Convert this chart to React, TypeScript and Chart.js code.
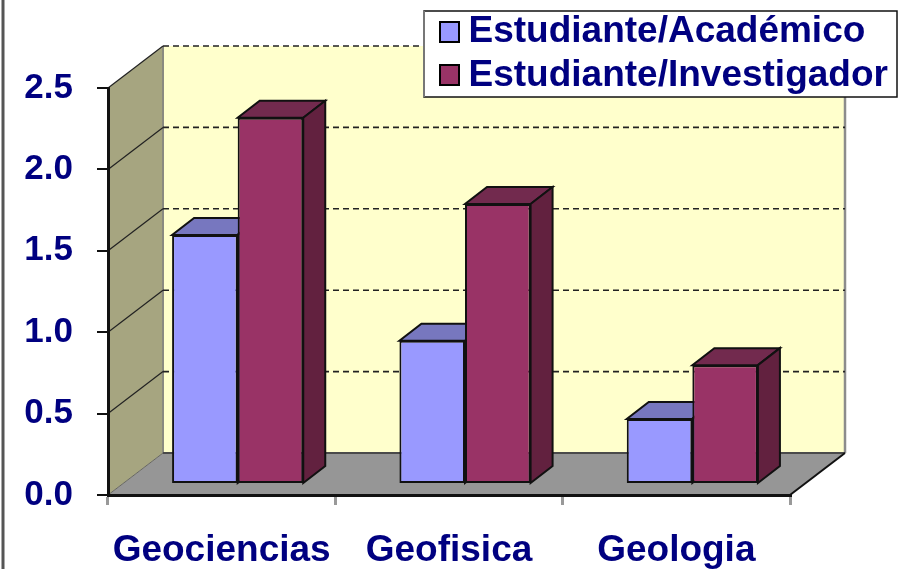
import React, { useEffect, useRef } from "react";
import { Chart, registerables } from "chart.js";

Chart.register(...registerables);

const categories = ["Geociencias", "Geofisica", "Geologia"];
const academico = [1.53, 0.88, 0.4];
const investigador = [2.25, 1.72, 0.73];
const seriesNames = ["Estudiante/Académico", "Estudiante/Investigador"];
const yTicks = [0, 0.5, 1, 1.5, 2, 2.5];

const NAVY = "#000080";
const FONT = "'Liberation Sans', Arial, sans-serif";
const WALL_DX = 55;
const WALL_DY = -42;
const BAR_DX = 16;
const BAR_DY = -11;
const DEPTH_X = 22;
const DEPTH_Y = -17;

function poly(ctx: CanvasRenderingContext2D, pts: number[][], fill: string, stroke?: string, lw = 1) {
  ctx.beginPath();
  pts.forEach((p, i) => (i ? ctx.lineTo(p[0], p[1]) : ctx.moveTo(p[0], p[1])));
  ctx.closePath();
  ctx.fillStyle = fill;
  ctx.fill();
  if (stroke) {
    ctx.strokeStyle = stroke;
    ctx.lineWidth = lw;
    ctx.stroke();
  }
}

function line(ctx: CanvasRenderingContext2D, x0: number, y0: number, x1: number, y1: number, color: string, lw: number, dash: number[] = []) {
  ctx.save();
  ctx.beginPath();
  ctx.setLineDash(dash);
  ctx.moveTo(x0, y0);
  ctx.lineTo(x1, y1);
  ctx.strokeStyle = color;
  ctx.lineWidth = lw;
  ctx.stroke();
  ctx.restore();
}

const stage = {
  id: "stage3d",
  afterLayout(chart: any) {
    const lg = chart.legend;
    if (lg) {
      lg.left = 433;
      lg.right = 905;
      lg.width = 472;
      lg.top = 6;
      lg.bottom = 160;
      lg.height = 154;
    }
  },
  beforeDraw(chart: any) {
    const ctx: CanvasRenderingContext2D = chart.ctx;
    const { left, right } = chart.chartArea;
    const y = chart.scales.y;
    const y0 = y.getPixelForValue(0);
    const yTop = y.getPixelForValue(2.5);
    ctx.save();
    // page frame
    line(ctx, 3, 0, 3, 569, "#555555", 3);
    // walls and floor
    poly(ctx, [[left + WALL_DX, y0 + WALL_DY], [right + WALL_DX, y0 + WALL_DY], [right + WALL_DX, yTop + WALL_DY], [left + WALL_DX, yTop + WALL_DY]], "#FFFFCC");
    poly(ctx, [[left, y0], [left + WALL_DX, y0 + WALL_DY], [left + WALL_DX, yTop + WALL_DY], [left, yTop]], "#A6A580");
    poly(ctx, [[left, y0], [left + WALL_DX, y0 + WALL_DY], [right + WALL_DX, y0 + WALL_DY], [right, y0]], "#969696");
    line(ctx, left + WALL_DX, yTop + WALL_DY, left + WALL_DX, y0 + WALL_DY, "#8a8a80", 2);
    line(ctx, right + WALL_DX, yTop + WALL_DY, right + WALL_DX, y0 + WALL_DY, "#8c8c8c", 2.5);
    line(ctx, left + WALL_DX, y0 + WALL_DY, right + WALL_DX, y0 + WALL_DY, "#4a4a4a", 2);
    line(ctx, right, y0, right + WALL_DX, y0 + WALL_DY, "#111111", 2);
    line(ctx, left, y0, left + WALL_DX, y0 + WALL_DY, "#666660", 1);
    // gridlines
    yTicks.slice(1).forEach((v) => {
      const p = y.getPixelForValue(v);
      line(ctx, left, p, left + WALL_DX, p + WALL_DY, "#222222", 1.2);
      line(ctx, left + WALL_DX, p + WALL_DY, right + WALL_DX, p + WALL_DY, "#222222", 1.6, [6, 4]);
    });
    // legend panel
    ctx.fillStyle = "#ffffff";
    ctx.fillRect(424, 11, 473, 86);
    ctx.strokeStyle = "#111111";
    ctx.lineWidth = 1.5;
    ctx.strokeRect(424, 11, 473, 86);
    line(ctx, 424, 11, 424, 97, "#777777", 2);
    ctx.restore();
  },
  beforeDatasetsDraw(chart: any) {
    const ctx: CanvasRenderingContext2D = chart.ctx;
    ctx.save();
    ctx.translate(BAR_DX, BAR_DY);
    const tops = ["#7777BF", "#722A4E"];
    const sides = ["#5F5F99", "#62213F"];
    chart.data.datasets.forEach((_: any, di: number) => {
      chart.getDatasetMeta(di).data.forEach((bar: any) => {
        const p = bar.getProps(["x", "y", "base", "width"], true);
        const l = p.x - p.width / 2;
        const r = p.x + p.width / 2;
        poly(ctx, [[l, p.y], [r, p.y], [r + DEPTH_X, p.y + DEPTH_Y], [l + DEPTH_X, p.y + DEPTH_Y]], tops[di], "#111111", 2);
        poly(ctx, [[r, p.y], [r + DEPTH_X, p.y + DEPTH_Y], [r + DEPTH_X, p.base + DEPTH_Y], [r, p.base]], sides[di], "#111111", 2);
      });
    });
  },
  afterDatasetsDraw(chart: any) {
    chart.ctx.restore();
  },
  afterDraw(chart: any) {
    const ctx: CanvasRenderingContext2D = chart.ctx;
    const fills = ["#9999FF", "#993366"];
    [22, 65].forEach((t, i) => {
      ctx.save();
      ctx.fillStyle = fills[i];
      ctx.fillRect(440, t, 19, 20);
      ctx.strokeStyle = "#000000";
      ctx.lineWidth = 2;
      ctx.strokeRect(440, t, 19, 20);
      ctx.restore();
    });
  },
};

export default function App() {
  const ref = useRef<HTMLCanvasElement>(null);
  useEffect(() => {
    const chart = new Chart(ref.current as HTMLCanvasElement, {
      type: "bar",
      data: {
        labels: categories,
        datasets: [
          { label: seriesNames[0], data: academico, backgroundColor: "#9999FF", borderColor: "#111111", borderWidth: 2, borderSkipped: false, clip: false } as any,
          { label: seriesNames[1], data: investigador, backgroundColor: "#993366", borderColor: "#111111", borderWidth: 2, borderSkipped: false, clip: false } as any,
        ],
      },
      options: {
        animation: false,
        responsive: false,
        layout: { padding: { left: 0, right: 119, top: 88, bottom: 0 } },
        datasets: { bar: { categoryPercentage: 0.577, barPercentage: 1 } },
        plugins: {
          tooltip: { enabled: false },
          legend: {
            display: true,
            position: "chartArea",
            align: "start",
            labels: {
              boxWidth: 10,
              boxHeight: 10,
              padding: 7,
              color: NAVY,
              font: { family: FONT, size: 37, weight: "bold", lineHeight: 1 },
            },
          },
        },
        scales: {
          x: {
            afterFit: (s: any) => { s.height = 74; },
            grid: { display: true, drawOnChartArea: false, drawTicks: true, tickLength: 10, color: "#999999", lineWidth: 3 },
            border: { color: "#111111", width: 3 },
            ticks: {
              autoSkip: false,
              maxRotation: 0,
              padding: 24,
              color: NAVY,
              font: { family: FONT, size: 37, weight: "bold" },
            },
          },
          y: {
            min: 0,
            max: 2.5,
            afterFit: (s: any) => { s.width = 108; },
            afterBuildTicks: (s: any) => { s.ticks = yTicks.map((value) => ({ value })); },
            grid: { display: true, drawOnChartArea: false, drawTicks: true, tickLength: 11, color: "#111111", lineWidth: 2 },
            border: { color: "#111111", width: 3 },
            ticks: {
              padding: 24,
              color: NAVY,
              font: { family: FONT, size: 35, weight: "bold" },
              callback: (v: any) => Number(v).toFixed(1),
            },
          },
        },
      },
      plugins: [stage],
    } as any);
    return () => chart.destroy();
  }, []);
  return (
    <div style={{ position: "fixed", left: 0, top: 0, width: 909, height: 569, background: "#fff" }}>
      <canvas ref={ref} width={909} height={569} style={{ display: "block" }} />
    </div>
  );
}
